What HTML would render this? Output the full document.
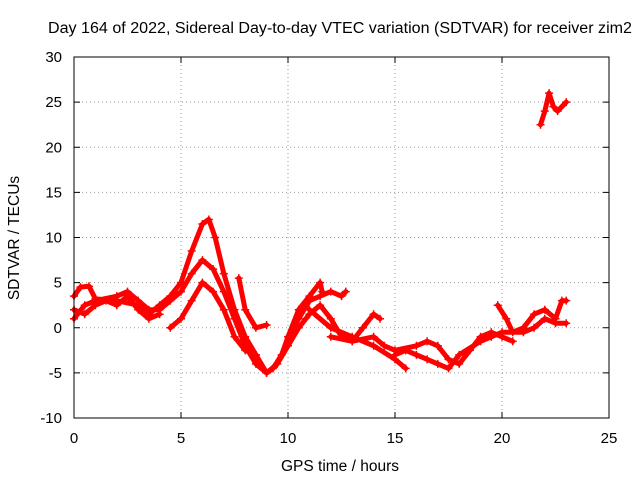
<!DOCTYPE html>
<html><head><meta charset="utf-8"><style>
body{margin:0;background:#fff}
svg{display:block;font-family:"Liberation Sans",sans-serif}
</style></head><body>
<svg id="chart" width="640" height="480">
<rect width="640" height="480" fill="#fff"/>
<text x="340" y="33" text-anchor="middle" font-size="15.5" textLength="584" lengthAdjust="spacingAndGlyphs">Day 164 of 2022, Sidereal Day-to-day VTEC variation (SDTVAR) for receiver zim2</text>
<g id="grid"></g><g id="marks"></g><g id="axes"></g>
<text x="340" y="471" text-anchor="middle" font-size="15.5">GPS time / hours</text>
<text transform="translate(19,238) rotate(-90)" text-anchor="middle" font-size="15.5">SDTVAR / TECUs</text>
</svg>
<script>
const xTicks=[0,5,10,15,20,25];
const yTicks=[-10,-5,0,5,10,15,20,25,30];
const track1=[[0,3.5],[0.3,4.5],[0.7,4.6],[1,3.2],[2,3],[3,2.5],[3.5,1.5],[4,2.5],[4.5,3.5],[5,5],[5.5,8.5],[6,11.5],[6.3,12],[6.6,10],[7,6],[7.5,2],[8,-1],[8.5,-3],[9,-5],[9.3,-4.5],[9.7,-3],[10,-1],[10.5,2],[11,3.5],[11.5,5],[11.6,4]];
const track2=[[0,1],[0.5,2.5],[1,3],[2,3.5],[2.5,4],[3,3],[3.5,2],[4,2],[4.5,3],[5,4],[5.5,6],[6,7.5],[6.5,6.5],[7,4],[7.5,1],[8,-2],[8.5,-4],[9,-5],[9.5,-4],[10,-2],[10.5,0],[11,1.5],[11.5,2.5],[12,1],[12.5,-1],[13,-1.5],[13.5,0],[14,1.5],[14.3,1]];
const track3=[[0,2],[0.5,1.5],[1,2.5],[1.5,3],[2,2.5],[2.5,3.5],[3,2],[3.5,1],[4,1.5]];
const track4=[[4.5,0],[5,1],[5.5,3],[6,5],[6.5,4],[7,2],[7.5,-1],[8,-2.5],[8.5,-3]];
const track5=[[7.7,5.5],[8,2],[8.5,0],[9,0.3]];
const track6=[[10,-1],[10.5,1],[11,3],[11.5,3.5],[12,4],[12.5,3.5],[12.7,4]];
const track7=[[11,2],[12,0],[13,-1],[14,-2],[15,-3.5],[15.5,-4.5]];
const track8=[[12,-1],[13,-1.5],[14,-1],[14.5,-2],[15,-2.5],[16,-2],[16.5,-1.5],[17,-2],[17.5,-3.5],[18,-4],[18.5,-2.5],[19,-1],[19.5,-0.5],[20,-1],[20.5,-1.5]];
const track9=[[15,-3],[15.5,-2.5],[16,-3],[16.5,-3.5],[17,-4],[17.5,-4.5],[18,-3],[19,-1.5],[19.5,-1],[20,-0.5],[21,-0.5],[21.5,0],[22,1],[22.5,0.5],[23,0.5]];
const track10=[[19.8,2.5],[20.2,1],[20.5,-0.5],[21,0],[21.5,1.5],[22,2],[22.5,1],[22.8,3],[23,3]];
const track11=[[21.8,22.5],[22,24],[22.2,26],[22.4,24.5],[22.6,24],[23,25]];
const tracks=[track1,track2,track3,track4,track5,track6,track7,track8,track9,track10,track11];
const L=74,R=609,T=57,B=418,NS="http://www.w3.org/2000/svg";
const xs=v=>L+(v-0)/25*(R-L);
const ys=v=>B-(v+10)/40*(B-T);
function mk(t,a,p){const e=document.createElementNS(NS,t);for(const k in a)e.setAttribute(k,a[k]);p.appendChild(e);return e;}
const grid=document.getElementById('grid'),axes=document.getElementById('axes'),marks=document.getElementById('marks');
xTicks.forEach(t=>{const x=xs(t);
 if(t>0&&t<25){const g=mk('line',{x1:x,x2:x,y1:T,y2:B,stroke:'#999','stroke-dasharray':'1,3','stroke-width':1},grid);}
 mk('line',{x1:x,x2:x,y1:B,y2:B-6,stroke:'#000'},axes);mk('line',{x1:x,x2:x,y1:T,y2:T+6,stroke:'#000'},axes);
 const l=mk('text',{x:x,y:B+25,'text-anchor':'middle','font-size':15},axes);l.textContent=t;
 });
yTicks.forEach(t=>{const y=ys(t);
 if(t>-10&&t<30){const g=mk('line',{x1:L,x2:R,y1:y,y2:y,stroke:'#999','stroke-dasharray':'1,3','stroke-width':1},grid);}
 mk('line',{x1:L,x2:L+6,y1:y,y2:y,stroke:'#000'},axes);mk('line',{x1:R,x2:R-6,y1:y,y2:y,stroke:'#000'},axes);
 const l=mk('text',{x:L-12,y:y+5,'text-anchor':'end','font-size':15},axes);l.textContent=t;
 });
const f=mk('rect',{x:L,y:T,width:R-L,height:B-T,fill:'none',stroke:'#000'},axes);

tracks.forEach((tr,i)=>{
 const p=mk('path',{d:tr.map((d,j)=>(j?'L':'M')+xs(d[0]).toFixed(1)+','+ys(d[1]).toFixed(1)).join(''),fill:'none',stroke:'#f00','stroke-width':5,'stroke-linejoin':'round','stroke-linecap':'round'},marks);
 
 
 tr.forEach(d=>{const x=xs(d[0]),y=ys(d[1]);
  const m=mk('path',{d:`M${x-4},${y}h8M${x},${y-4}v8`,stroke:'#f00','stroke-width':1.5},marks);
  
  });
});
</script>
</body></html>
